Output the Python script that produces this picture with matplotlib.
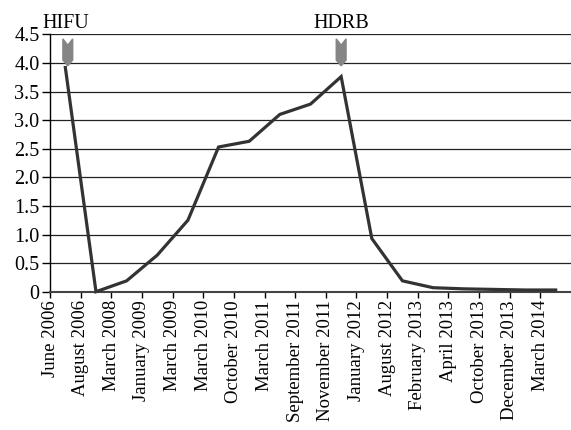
import numpy as np
import matplotlib as mpl
mpl.use('Agg')
import matplotlib.pyplot as plt
from matplotlib.patches import Polygon
import matplotlib.transforms as mtransforms

# data
dates = ['June 2006', 'August 2006', 'March 2008', 'January 2009', 'March 2009',
         'March 2010', 'October 2010', 'March 2011', 'September 2011',
         'November 2011', 'January 2012', 'August 2012', 'February 2013',
         'April 2013', 'October 2013', 'December 2013', 'March 2014']
values = [3.92, 0.0, 0.19, 0.64, 1.25, 2.53, 2.63, 3.10, 3.28, 3.76,
          0.93, 0.19, 0.07, 0.05, 0.04, 0.03, 0.03]
markers = ['HIFU', 'HDRB']
marker_idx = [0, 9]
yticks = [0, 0.5, 1.0, 1.5, 2.0, 2.5, 3.0, 3.5, 4.0, 4.5]

plt.rcParams['font.family'] = ['Liberation Serif', 'DejaVu Serif']

fig = plt.figure(figsize=(5.71, 4.30), dpi=100)
ax = fig.add_axes([0.0876, 0.3216, 0.9124, 0.5986])

x = np.arange(len(dates)) + 0.5
ax.plot(x, values, color='#333333', lw=2.3, solid_joinstyle='miter', zorder=3,
        clip_on=False)

for yv in yticks[1:]:
    ax.axhline(yv, color='#222222', lw=0.9, zorder=1)

# grey arrows with labels
for name, i in zip(markers, marker_idx):
    cx = x[i] + (0.08 if i == 0 else 0.0)
    w = 0.16
    pts = [(cx - w, 4.42), (cx, 4.31), (cx + w, 4.42), (cx + w, 4.05),
           (cx, 3.95), (cx - w, 4.05)]
    ax.add_patch(Polygon(pts, closed=True, color='#858585', zorder=4,
                         clip_on=False))
    ax.text(x[i], 4.61, name, ha='center', va='baseline', fontsize=14.5)

ax.set_xlim(0, len(dates))
ax.set_ylim(0, 4.5)
ax.set_xticks(np.arange(len(dates)))
ax.set_xticklabels(dates, rotation=90, ha='center', va='top', fontsize=13.5)
offset = mtransforms.ScaledTranslation(3 / 100, 0, fig.dpi_scale_trans)
for lab in ax.get_xticklabels():
    lab.set_transform(lab.get_transform() + offset)
ax.set_yticks(yticks)
ax.set_yticklabels(['0' if v == 0 else '%.1f' % v for v in yticks], fontsize=14.5)

ax.tick_params(axis='y', direction='out', length=6, width=1, pad=1.5, color='black')
ax.tick_params(axis='x', direction='out', length=4.5, width=1, pad=1.5, color='black')

for s in ['top', 'right']:
    ax.spines[s].set_visible(False)
ax.spines['left'].set_color('black')
ax.spines['left'].set_linewidth(1)
ax.spines['bottom'].set_color('#444444')
ax.spines['bottom'].set_linewidth(1.5)

plt.savefig('out.png', dpi=100)
